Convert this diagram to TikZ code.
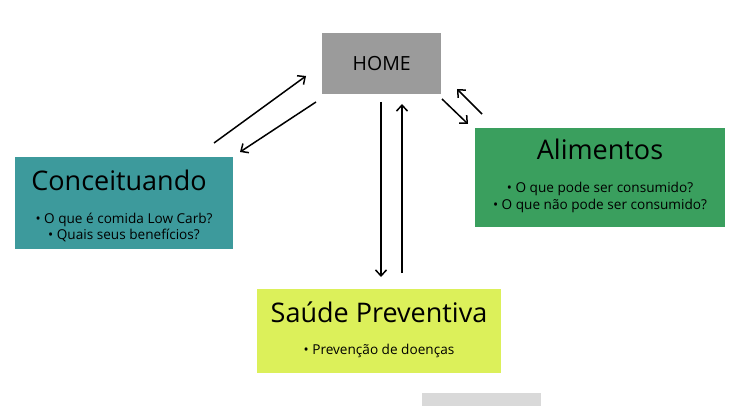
\documentclass[tikz,border=0pt]{standalone}
\usepackage{fontspec}
\setmainfont{Open Sans}
\usetikzlibrary{arrows.meta}

\definecolor{homegray}{HTML}{9B9B9B}
\definecolor{concteal}{HTML}{3D9A9C}
\definecolor{alimgreen}{HTML}{3A9F5E}
\definecolor{saudelime}{HTML}{DCF05A}
\definecolor{lightgray}{HTML}{D9D9D9}

\tikzset{
    box/.style={inner sep=0pt, anchor=north west},
    title/.style={anchor=base, inner sep=0pt, font=\fontsize{27}{31}\selectfont},
    item/.style={anchor=base, inner sep=0pt, font=\fontsize{13.6}{16}\selectfont},
    link/.style={line width=1.5pt, -{Straight Barb[length=6pt,width=11pt]}}
}

\begin{document}
\begin{tikzpicture}[x=1pt,y=-1pt]
    \useasboundingbox (0,0) rectangle (741,406);

    % boxes
    \node[box, fill=homegray, minimum width=119pt, minimum height=61pt,
          font=\fontsize{19.5}{22}\selectfont] (home) at (322,33) {HOME};
    \node[box, fill=concteal, minimum width=218pt, minimum height=92pt] (conc) at (15,157) {};
    \node[box, fill=alimgreen, minimum width=250pt, minimum height=99pt] (alim) at (475,128) {};
    \node[box, fill=saudelime, minimum width=244pt, minimum height=84pt] (saude) at (257,289) {};
    \node[box, fill=lightgray, minimum width=119pt, minimum height=14pt] (extra) at (422,393) {};

    % texts
    \node[title] (conctitle) at (119,190) {Conceituando};
    \node[item] (conc1) at (124,223) {• O que é comida Low Carb?};
    \node[item] (conc2) at (124,239) {• Quais seus benefícios?};

    \node[title] (alimtitle) at (600,160) {Alimentos};
    \node[item] (alim1) at (600,193) {• O que pode ser consumido?};
    \node[item] (alim2) at (600,209) {• O que não pode ser consumido?};

    \node[title] (saudetitle) at (379,322) {Saúde Preventiva};
    \node[item] (saude1) at (379,354) {• Prevenção de doenças};

    % arrow ends
    \coordinate (C1) at (214,143);
    \coordinate (H1) at (306,76);
    \coordinate (H2) at (316,102);
    \coordinate (C2) at (240,152);
    \coordinate (H3) at (381,102);
    \coordinate (S1) at (381,277);
    \coordinate (S2) at (402,273);
    \coordinate (H4) at (402,104);
    \coordinate (H5) at (442,99);
    \coordinate (A1) at (468,124);
    \coordinate (A2) at (482,114);
    \coordinate (H6) at (457,89);

    \draw[link] (C1) -- (H1); % to home
    \draw[link] (H2) -- (C2); % to conceituando
    \draw[link] (H3) -- (S1); % to saude
    \draw[link] (S2) -- (H4); % back home
    \draw[link] (H5) -- (A1); % to alimentos
    \draw[link] (A2) -- (H6); % back home
\end{tikzpicture}
\end{document}
